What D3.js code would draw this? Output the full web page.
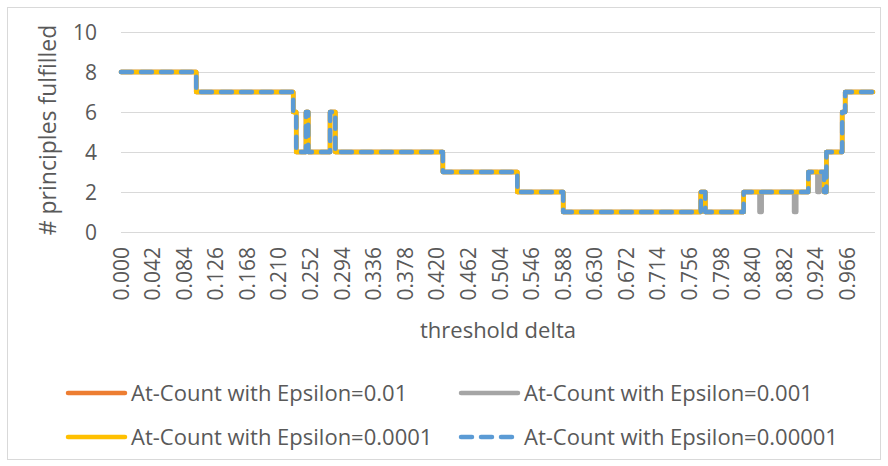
<!DOCTYPE html>
<html>
  <meta charset="utf-8">
  <head>
    <!-- Load d3.js -->
    <script src="https://d3js.org/d3.v7.min.js"></script>
    <title>Principles fulfilled by threshold delta</title>
    <style>
      body { margin: 0; background: #fff; }
      text { font-family: "Open Sans", sans-serif; fill: #595959; }
    </style>
  </head>
  <body>
  <div id="my_dataviz"></div>
  <script>

// change points of each series: value holds from this delta until the next one
// Epsilon=0.01 and Epsilon=0.0001 look identical (orange hidden below yellow)
var deltaEps01 = [0.000, 0.100, 0.229, 0.233, 0.246, 0.249, 0.278, 0.285, 0.428, 0.527, 0.588, 0.771, 0.777, 0.828, 0.914, 0.935, 0.938, 0.959, 0.963, 1.000];
var countEps01 = [8, 7, 6, 4, 6, 4, 6, 4, 3, 2, 1, 2, 1, 2, 3, 2, 4, 6, 7, 7];

// Epsilon=0.001 has a few extra dips
var deltaEps001 = [0.000, 0.100, 0.229, 0.233, 0.246, 0.249, 0.278, 0.285, 0.428, 0.527, 0.588, 0.771, 0.777, 0.828, 0.849, 0.852, 0.895, 0.898, 0.914, 0.926, 0.929, 0.935, 0.938, 0.959, 0.963, 1.000];
var countEps001 = [8, 7, 6, 4, 6, 4, 6, 4, 3, 2, 1, 2, 1, 2, 1, 2, 1, 2, 3, 2, 3, 2, 4, 6, 7, 7];

var deltaEps0001 = deltaEps01;
var countEps0001 = countEps01;
var deltaEps00001 = deltaEps01;
var countEps00001 = countEps01;

// tick labels on the category axis
var xTickLabels = ["0.000", "0.042", "0.084", "0.126", "0.168", "0.210", "0.252", "0.294", "0.336", "0.378", "0.420", "0.462",
                   "0.504", "0.546", "0.588", "0.630", "0.672", "0.714", "0.756", "0.798", "0.840", "0.882", "0.924", "0.966"];
var yTicks = [0, 2, 4, 6, 8, 10];

var seriesNames = ["At-Count with Epsilon=0.01", "At-Count with Epsilon=0.001", "At-Count with Epsilon=0.0001", "At-Count with Epsilon=0.00001"];
var seriesColors = ["#ED7D31", "#A5A5A5", "#FFC000", "#5B9BD5"];

function toPoints(deltas, counts) {
  return deltas.map(function(d, i) { return {x: d, y: counts[i]}; });
}

var series = [
  {name: seriesNames[0], color: seriesColors[0], dash: null, values: toPoints(deltaEps01, countEps01)},
  {name: seriesNames[1], color: seriesColors[1], dash: null, values: toPoints(deltaEps001, countEps001)},
  {name: seriesNames[2], color: seriesColors[2], dash: null, values: toPoints(deltaEps0001, countEps0001)},
  {name: seriesNames[3], color: seriesColors[3], dash: "11,9", values: toPoints(deltaEps00001, countEps00001)}
];

var W = 888, H = 466;
var margin = {top: 32, right: 15, bottom: 234, left: 121};

var svg = d3.select("#my_dataviz")
  .append("svg")
    .attr("width", W)
    .attr("height", H);

// chart border
svg.append("rect")
  .attr("x", 7.5).attr("y", 7.5)
  .attr("width", 873).attr("height", 452)
  .attr("fill", "none")
  .attr("stroke", "#d9d9d9");

var x = d3.scaleLinear()
  .domain([0, 1])
  .range([margin.left, W - margin.right]);

var y = d3.scaleLinear()
  .domain([0, 10])
  .range([H - margin.bottom, margin.top]);

// gridlines
svg.append("g")
  .selectAll("line")
  .data(yTicks)
  .enter().append("line")
    .attr("x1", margin.left)
    .attr("x2", W - margin.right + 2)
    .attr("y1", function(d) { return y(d) + 0.5; })
    .attr("y2", function(d) { return y(d) + 0.5; })
    .attr("stroke", "#d9d9d9")
    .attr("stroke-width", 1);

// Y axis labels
svg.append("g")
  .selectAll("text")
  .data(yTicks)
  .enter().append("text")
    .attr("x", 97)
    .attr("y", function(d) { return y(d); })
    .attr("dy", "0.36em")
    .attr("text-anchor", "end")
    .style("font-size", "21px")
    .text(function(d) { return d; });

// X axis labels (rotated)
svg.append("g")
  .selectAll("text")
  .data(xTickLabels)
  .enter().append("text")
    .attr("transform", function(d) { return "translate(" + x(+d) + ",247) rotate(-90)"; })
    .attr("dy", "0.36em")
    .attr("text-anchor", "end")
    .style("font-size", "21px")
    .text(function(d) { return d; });

// axis titles
svg.append("text")
  .attr("x", 498)
  .attr("y", 338)
  .attr("text-anchor", "middle")
  .style("font-size", "22px")
  .text("threshold delta");

svg.append("text")
  .attr("transform", "translate(56,130) rotate(-90)")
  .attr("text-anchor", "middle")
  .style("font-size", "23px")
  .text("# principles fulfilled");

// the lines
var line = d3.line()
  .curve(d3.curveStepAfter)
  .x(function(d) { return x(d.x); })
  .y(function(d) { return y(d.y); });

svg.append("g")
  .selectAll("path")
  .data(series)
  .enter().append("path")
    .attr("d", function(d) { return line(d.values); })
    .attr("fill", "none")
    .attr("stroke", function(d) { return d.color; })
    .attr("stroke-width", 4.5)
    .attr("stroke-linecap", "round")
    .attr("stroke-linejoin", "round")
    .attr("stroke-dasharray", function(d) { return d.dash; });

// legend, 2 columns
var legendX = [68, 461], legendY = [393, 437];
var legend = svg.append("g")
  .selectAll("g")
  .data(series)
  .enter().append("g")
    .attr("transform", function(d, i) { return "translate(" + legendX[i % 2] + "," + legendY[Math.floor(i / 2)] + ")"; });

legend.append("line")
  .attr("x1", 0).attr("x2", 57)
  .attr("stroke", function(d) { return d.color; })
  .attr("stroke-width", 4.5)
  .attr("stroke-linecap", "round")
  .attr("stroke-dasharray", function(d) { return d.dash; });

legend.append("text")
  .attr("x", 63)
  .attr("dy", "0.36em")
  .style("font-size", "22px")
  .text(function(d) { return d.name; });

  </script>
  </body>
</html>
